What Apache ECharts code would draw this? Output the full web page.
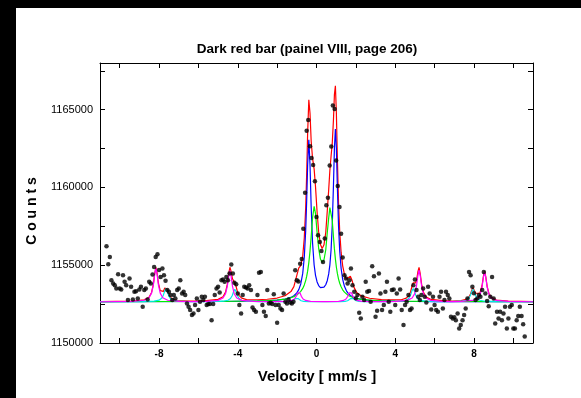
<!DOCTYPE html>
<html>
<head>
<meta charset="utf-8">
<script src="https://cdn.jsdelivr.net/npm/echarts@6/dist/echarts.min.js"></script>
<style>
  html, body { margin: 0; padding: 0; background: #fff; }
  #chart { width: 581px; height: 398px; }
</style>
</head>
<body>
<div id="chart"></div>
<script>
// Mossbauer spectrum: measured counts per channel
var velocity = [
  -10.67,-10.58,-10.5,-10.42,-10.33,-10.25,-10.17,-10.08,-10,-9.92,-9.83,-9.75,
  -9.67,-9.58,-9.5,-9.42,-9.33,-9.25,-9.17,-9.08,-9,-8.92,-8.83,-8.75,
  -8.67,-8.58,-8.5,-8.42,-8.33,-8.25,-8.17,-8.08,-8,-7.92,-7.83,-7.75,
  -7.67,-7.58,-7.5,-7.42,-7.33,-7.25,-7.17,-7.08,-7,-6.92,-6.83,-6.75,
  -6.67,-6.58,-6.5,-6.42,-6.33,-6.25,-6.17,-6.08,-6,-5.92,-5.83,-5.75,
  -5.67,-5.58,-5.5,-5.42,-5.33,-5.25,-5.17,-5.08,-5,-4.92,-4.83,-4.75,
  -4.67,-4.58,-4.5,-4.42,-4.33,-4.25,-4.17,-4.08,-4,-3.92,-3.83,-3.75,
  -3.67,-3.58,-3.5,-3.42,-3.33,-3.25,-3.17,-3.08,-3,-2.92,-2.83,-2.75,
  -2.67,-2.58,-2.5,-2.42,-2.33,-2.25,-2.17,-2.08,-2,-1.92,-1.83,-1.75,
  -1.67,-1.58,-1.5,-1.42,-1.33,-1.25,-1.17,-1.08,-1,-0.92,-0.83,-0.75,
  -0.67,-0.58,-0.5,-0.42,-0.33,-0.25,-0.17,-0.08,0,0.08,0.17,0.25,
  0.33,0.42,0.5,0.58,0.67,0.75,0.83,0.92,1,1.08,1.17,1.25,
  1.33,1.42,1.5,1.58,1.67,1.75,1.83,1.92,2,2.08,2.17,2.25,
  2.33,2.42,2.5,2.58,2.67,2.75,2.83,2.92,3,3.08,3.17,3.25,
  3.33,3.42,3.5,3.58,3.67,3.75,3.83,3.92,4,4.08,4.17,4.25,
  4.33,4.42,4.5,4.58,4.67,4.75,4.83,4.92,5,5.08,5.17,5.25,
  5.33,5.42,5.5,5.58,5.67,5.75,5.83,5.92,6,6.08,6.17,6.25,
  6.33,6.42,6.5,6.58,6.67,6.75,6.83,6.92,7,7.08,7.17,7.25,
  7.33,7.42,7.5,7.58,7.67,7.75,7.83,7.92,8,8.08,8.17,8.25,
  8.33,8.42,8.5,8.58,8.67,8.75,8.83,8.92,9,9.08,9.17,9.25,
  9.33,9.42,9.5,9.58,9.67,9.75,9.83,9.92,10,10.08,10.17,10.25,
  10.33,10.42,10.5,10.58
];
var counts = [
  1156220,1155060,1155530,1154040,1153830,1153720,1153500,1154420,1153500,1153440,1154360,1153930,
  1153720,1152760,1154150,1153610,1152800,1153290,1153330,1152860,1153440,1153610,1152330,1153400,
  1153500,1152800,1153930,1153830,1154400,1154890,1155530,1155710,1154700,1154250,1154790,1154360,
  1154000,1153400,1153290,1153080,1152760,1153080,1152860,1153400,1153500,1154040,1153180,1153290,
  1153080,1152540,1152330,1152120,1151800,1151900,1152440,1152860,1152120,1152650,1152970,1152760,
  1152970,1152440,1152500,1152500,1151470,1152500,1153080,1153500,1153610,1153250,1154040,1154080,
  1153930,1154250,1154040,1154470,1155040,1154470,1153870,1153780,1153180,1152440,1151900,1153080,
  1153610,1153570,1153500,1153720,1153400,1152290,1152120,1152010,1153080,1154510,1154570,1152440,
  1152010,1151730,1153400,1152540,1152590,1152500,1153140,1152440,1151300,1152440,1152220,1152120,
  1153180,1152650,1152540,1152800,1152600,1152540,1152650,1154680,1154040,1153950,1155100,1155400,
  1157350,1159660,1163650,1164340,1162650,1161900,1161450,1160400,1158100,1156920,1156500,1155920,
  1155210,1156710,1158850,1159340,1161410,1162630,1165260,1165040,1161730,1160100,1158740,1157030,
  1155490,1154360,1154150,1153830,1154040,1154790,1153720,1153290,1152870,1153080,1151940,1151580,
  1152970,1152760,1153930,1153290,1153350,1152650,1154940,1154290,1151690,1152070,1154470,1153190,
  1152120,1152440,1153290,1153930,1152650,1152010,1153400,1153440,1152440,1153190,1154150,1153440,
  1152120,1151150,1152440,1152650,1153080,1152120,1152220,1153720,1154080,1153400,1152970,1152760,
  1153080,1153500,1152970,1152600,1153610,1153180,1152160,1152970,1152440,1152120,1152010,1152970,
  1153290,1152220,1152760,1153290,1153080,1152860,1151690,1151580,1151650,1151470,1151900,1150940,
  1151150,1151470,1151800,1152220,1152860,1154570,1154360,1153610,1153200,1152760,1152860,1153080,
  1152970,1153400,1154570,1153180,1152700,1152370,1152970,1154250,1152860,1151260,1152010,1151580,
  1152010,1151470,1151900,1152330,1150940,1151580,1152330,1152440,1150940,1150940,1151470,1151730,
  1152330,1151730,1151200,1150410
];

// fitted curves: [velocity, counts]
var fitTotal = [
  [-11,1152662],[-9.36,1152694],[-8.76,1152772],[-8.51,1152943],[-8.38,1153247],[-8.29,1153773],
  [-8.22,1154478],[-8.16,1154866],[-8.1,1154501],[-8.03,1153828],[-7.94,1153363],[-7.87,1153243],
  [-7.78,1153315],[-7.71,1153530],[-7.65,1153645],[-7.59,1153470],[-7.52,1153174],[-7.43,1152950],
  [-7.3,1152815],[-7.05,1152731],[-6.45,1152688],[-6,1152690],[-5.6,1152724],[-5,1152804],
  [-4.75,1152975],[-4.62,1153273],[-4.53,1153782],[-4.46,1154466],[-4.4,1154868],[-4.34,1154601],
  [-4.27,1154131],[-4.21,1153996],[-4.15,1153925],[-4.09,1153659],[-4.02,1153310],[-3.93,1153050],
  [-3.8,1152889],[-3.55,1152787],[-3,1152779],[-2.5,1152811],[-2,1152890],[-1.6,1153036],
  [-1.3,1153304],[-1.15,1153627],[-1,1154348],[-0.9,1154824],[-0.8,1154977],[-0.7,1155585],
  [-0.62,1156761],[-0.55,1158681],[-0.5,1160833],[-0.45,1163500],[-0.39,1165641],[-0.33,1164784],
  [-0.27,1162972],[-0.2,1161865],[-0.12,1161175],[-0.05,1160044],[0.03,1158420],[0.11,1157143],
  [0.2,1156330],[0.29,1156075],[0.38,1156311],[0.47,1157098],[0.55,1158533],[0.62,1159858],
  [0.68,1161101],[0.74,1162006],[0.8,1162831],[0.86,1164301],[0.91,1165965],[0.96,1166539],
  [1.01,1164773],[1.06,1161898],[1.12,1159018],[1.18,1157154],[1.25,1155839],[1.33,1154965],
  [1.42,1154410],[1.52,1154111],[1.6,1154089],[1.72,1154288],[1.8,1154057],[1.9,1153591],
  [2.05,1153229],[2.3,1153011],[2.7,1152875],[3.3,1152791],[4,1152769],[4.31,1152781],
  [4.56,1152881],[4.69,1153038],[4.78,1153294],[4.85,1153633],[4.91,1153869],[4.97,1153858],
  [5.04,1153871],[5.1,1154152],[5.15,1154563],[5.21,1154861],[5.27,1154467],[5.34,1153782],
  [5.43,1153272],[5.56,1152974],[5.81,1152802],[6.41,1152724],[6.9,1152694],[7.35,1152728],
  [7.6,1152803],[7.73,1152925],[7.82,1153130],[7.89,1153402],[7.95,1153558],[8.01,1153437],
  [8.08,1153210],[8.17,1153086],[8.3,1153198],[8.41,1153679],[8.48,1154281],[8.54,1154607],
  [8.6,1154267],[8.67,1153645],[8.76,1153182],[8.89,1152915],[9.14,1152765],[9.74,1152697],
  [11,1152665]
];
var fitDoubletBlue = [
  [-11,1152653],[-5,1152668],[-3,1152693],[-2.5,1152713],[-2,1152752],[-1.6,1152819],
  [-1.3,1152930],[-1.15,1153036],[-1,1153221],[-0.9,1153434],[-0.8,1153794],[-0.7,1154473],
  [-0.62,1155521],[-0.55,1157210],[-0.5,1159119],[-0.45,1161459],[-0.39,1163067],[-0.33,1161480],
  [-0.27,1158729],[-0.2,1156432],[-0.12,1155015],[-0.05,1154350],[0.03,1153924],[0.11,1153690],
  [0.2,1153560],[0.29,1153529],[0.38,1153586],[0.47,1153746],[0.55,1154022],[0.62,1154439],
  [0.68,1155023],[0.74,1155977],[0.8,1157561],[0.86,1160062],[0.91,1162524],[0.96,1163760],
  [1.01,1162508],[1.06,1160029],[1.12,1157508],[1.18,1155902],[1.25,1154803],[1.33,1154095],
  [1.42,1153644],[1.52,1153352],[1.6,1153203],[1.72,1153056],[1.8,1152989],[1.9,1152927],
  [2.05,1152863],[2.3,1152797],[2.7,1152742],[3.3,1152704],[4,1152683],[6,1152665],[11,1152653]
];
var fitDoubletGreen = [
  [-11,1152654],[-5,1152667],[-3,1152704],[-2.5,1152726],[-2,1152765],[-1.6,1152826],
  [-1.3,1152911],[-1.15,1152980],[-1,1153082],[-0.9,1153179],[-0.8,1153315],[-0.7,1153510],
  [-0.62,1153736],[-0.55,1154013],[-0.5,1154278],[-0.45,1154619],[-0.39,1155165],[-0.33,1155905],
  [-0.27,1156851],[-0.2,1158046],[-0.12,1158778],[-0.05,1158316],[0.03,1157120],[0.11,1156078],
  [0.2,1155397],[0.29,1155173],[0.38,1155352],[0.47,1155978],[0.55,1157135],[0.62,1158042],
  [0.68,1158699],[0.71,1158778],[0.74,1158648],[0.8,1157886],[0.86,1156851],[0.91,1156050],
  [0.96,1155389],[1.01,1154871],[1.06,1154471],[1.12,1154110],[1.18,1153843],[1.25,1153613],
  [1.33,1153422],[1.42,1153269],[1.52,1153147],[1.6,1153074],[1.72,1152991],[1.8,1152950],
  [1.9,1152907],[2.05,1152859],[2.3,1152805],[2.7,1152754],[3.3,1152715],[4,1152692],
  [6,1152668],[11,1152654]
];
var fitSextetMagenta = [
  [-11,1152652],
  [-9.36,1152675],[-8.76,1152747],[-8.51,1152910],[-8.38,1153207],[-8.29,1153725],[-8.22,1154422],
  [-8.16,1154800],[-8.1,1154422],[-8.03,1153725],[-7.94,1153207],[-7.81,1152910],[-7.56,1152747],
  [-6.96,1152675],[-6.2,1152662],
  [-5.6,1152673],[-5,1152740],[-4.75,1152892],[-4.62,1153168],[-4.53,1153650],[-4.46,1154298],
  [-4.4,1154650],[-4.34,1154298],[-4.27,1153650],[-4.18,1153168],[-4.05,1152892],[-3.8,1152740],
  [-3.2,1152673],[-2.6,1152660],
  [-2.1,1152658],[-1.5,1152681],[-1.25,1152735],[-1.12,1152831],[-1.03,1153000],[-0.96,1153227],
  [-0.9,1153350],[-0.84,1153227],[-0.77,1153000],[-0.68,1152831],[-0.55,1152735],[-0.3,1152681],
  [0.3,1152664],[0.52,1152664],
  [1.12,1152681],[1.37,1152735],[1.5,1152831],[1.59,1153000],[1.66,1153227],[1.72,1153350],
  [1.78,1153227],[1.85,1153000],[1.94,1152831],[2.07,1152735],[2.32,1152681],[2.92,1152658],
  [3.5,1152660],
  [4.01,1152674],[4.61,1152741],[4.86,1152896],[4.99,1153176],[5.08,1153665],[5.15,1154323],
  [5.21,1154680],[5.27,1154323],[5.34,1153665],[5.43,1153176],[5.56,1152896],[5.81,1152741],
  [6.41,1152674],[6.9,1152662],
  [7.34,1152672],[7.94,1152735],[8.19,1152880],[8.32,1153142],[8.41,1153600],[8.48,1154216],
  [8.54,1154550],[8.6,1154216],[8.67,1153600],[8.76,1153142],[8.89,1152880],[9.14,1152735],
  [9.74,1152672],[11,1152652]
];
var fitSextetCyan = [
  [-11,1152652],
  [-8.85,1152660],[-8.25,1152688],[-8,1152753],[-7.87,1152870],[-7.78,1153075],[-7.71,1153350],
  [-7.65,1153500],[-7.59,1153350],[-7.52,1153075],[-7.43,1152870],[-7.3,1152753],[-7.05,1152688],
  [-6.45,1152660],
  [-5.35,1152659],[-4.75,1152686],[-4.5,1152747],[-4.37,1152857],[-4.28,1153050],[-4.21,1153309],
  [-4.15,1153450],[-4.09,1153309],[-4.02,1153050],[-3.93,1152857],[-3.8,1152747],[-3.55,1152686],
  [-2.95,1152659],
  [-2.2,1152653],[-1.6,1152661],[-1.35,1152680],[-1.22,1152715],[-1.13,1152775],[-1.06,1152856],
  [-1,1152900],[-0.94,1152856],[-0.87,1152775],[-0.78,1152715],[-0.65,1152680],[-0.4,1152661],
  [0.2,1152653],[0.6,1152653],
  [1.2,1152661],[1.45,1152680],[1.58,1152715],[1.67,1152775],[1.74,1152856],[1.8,1152900],
  [1.86,1152856],[1.93,1152775],[2.02,1152715],[2.15,1152680],[2.4,1152661],[3,1152653],
  [3.71,1152660],[4.31,1152688],[4.56,1152753],[4.69,1152870],[4.78,1153075],[4.85,1153350],
  [4.91,1153500],[4.97,1153350],[5.04,1153075],[5.13,1152870],[5.26,1152753],[5.51,1152688],
  [6.11,1152660],
  [6.75,1152659],[7.35,1152686],[7.6,1152747],[7.73,1152857],[7.82,1153050],[7.89,1153309],
  [7.95,1153450],[8.01,1153309],[8.08,1153050],[8.17,1152857],[8.3,1152747],[8.55,1152686],
  [9.15,1152659],[11,1152652]
];

var xTicks = [-10, -8, -6, -4, -2, 0, 2, 4, 6, 8, 10];
var xLabels = [-8, -4, 0, 4, 8];
var yTicks = [1150000, 1152500, 1155000, 1157500, 1160000, 1162500, 1165000, 1167500];
var yLabels = [1150000, 1155000, 1160000, 1165000];

var points = [];
for (var i = 0; i < velocity.length; i++) {
  points.push([velocity[i], counts[i]]);
}

function fitLine(data, color) {
  return {
    type: 'line',
    data: data,
    showSymbol: false,
    smooth: false,
    lineStyle: { color: color, width: 1.2 },
    silent: true
  };
}

var axisBase = {
  axisLine: { show: true, onZero: false, lineStyle: { color: '#000', width: 1 } },
  splitLine: { show: false }
};

var chart = echarts.init(document.getElementById('chart'), null, { renderer: 'canvas' });
chart.setOption({
  animation: false,
  backgroundColor: '#fff',
  grid: { left: 100, right: 48, top: 63, bottom: 55 },
  xAxis: [
    Object.assign({
      type: 'value', min: -11, max: 11, position: 'bottom',
      axisTick: { inside: true, length: 5, customValues: xTicks, lineStyle: { color: '#000' } },
      axisLabel: {
        customValues: xLabels, margin: 6, color: '#000',
        fontFamily: 'Liberation Sans, Arial, sans-serif', fontSize: 10, fontWeight: 'bold'
      }
    }, axisBase),
    Object.assign({
      type: 'value', min: -11, max: 11, position: 'top',
      axisTick: { inside: true, length: 5, customValues: xTicks, lineStyle: { color: '#000' } },
      axisLabel: { show: false }
    }, axisBase)
  ],
  yAxis: [
    Object.assign({
      type: 'value', min: 1150000, max: 1168000, position: 'left',
      axisTick: { inside: true, length: 5, customValues: yTicks, lineStyle: { color: '#000' } },
      axisLabel: {
        customValues: yLabels, margin: 7, color: '#000',
        fontFamily: 'Liberation Sans, Arial, sans-serif', fontSize: 11,
        formatter: function (v) { return String(v); }
      }
    }, axisBase),
    Object.assign({
      type: 'value', min: 1150000, max: 1168000, position: 'right',
      axisTick: { inside: true, length: 5, customValues: yTicks, lineStyle: { color: '#000' } },
      axisLabel: { show: false }
    }, axisBase)
  ],
  series: [
    fitLine(fitTotal, '#ff0000'),
    fitLine(fitDoubletBlue, '#0000ff'),
    fitLine(fitDoubletGreen, '#00f000'),
    fitLine(fitSextetCyan, '#00e8e8'),
    fitLine(fitSextetMagenta, '#ff00ff'),
    {
      type: 'scatter',
      data: points,
      symbol: 'circle',
      symbolSize: 4.5,
      itemStyle: { color: '#000' },
      silent: true,
      z: 5
    }
  ],
  graphic: [
    { type: 'rect', shape: { x: 0, y: 0, width: 16, height: 398 }, style: { fill: '#000' }, silent: true },
    { type: 'rect', shape: { x: 0, y: 0, width: 581, height: 8 }, style: { fill: '#000' }, silent: true },
    {
      type: 'text', x: 307, y: 49, silent: true,
      style: {
        text: 'Dark red bar (painel VIII, page 206)', fill: '#000',
        font: 'bold 13.5px "Liberation Sans", Arial, sans-serif',
        align: 'center', verticalAlign: 'middle'
      }
    },
    {
      type: 'text', x: 317, y: 377, silent: true,
      style: {
        text: 'Velocity [ mm/s ]', fill: '#000',
        font: 'bold 15px "Liberation Sans", Arial, sans-serif',
        align: 'center', verticalAlign: 'middle'
      }
    },
    {
      type: 'text', x: 32, y: 211, rotation: Math.PI / 2, silent: true,
      style: {
        text: 'C o u n t s', fill: '#000',
        font: 'bold 14px "Liberation Sans", Arial, sans-serif',
        align: 'center', verticalAlign: 'middle'
      }
    }
  ]
});
</script>
</body>
</html>
